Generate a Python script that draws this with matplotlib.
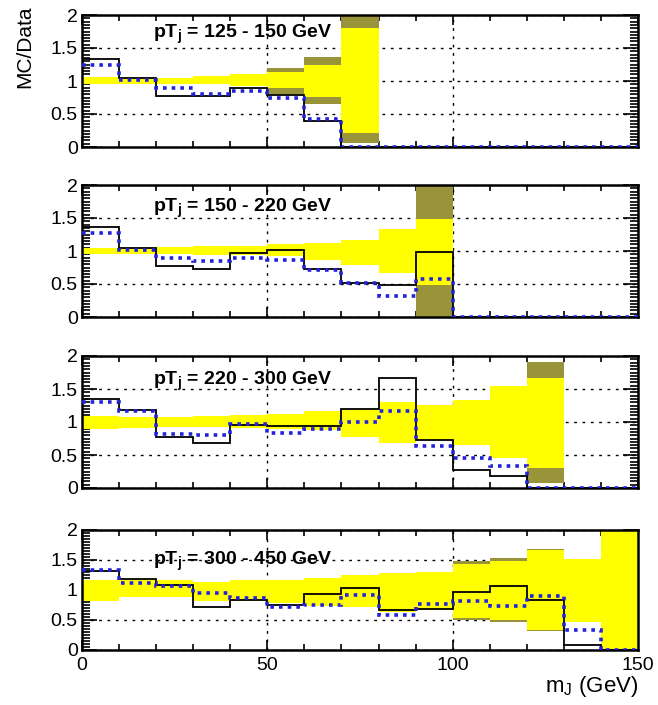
import numpy as np
import matplotlib
matplotlib.use("Agg")
import matplotlib.pyplot as plt
from matplotlib.ticker import MultipleLocator

plt.rcParams['font.family'] = ['Liberation Sans', 'DejaVu Sans']
plt.rcParams['mathtext.fontset'] = 'custom'
plt.rcParams['mathtext.rm'] = 'Liberation Sans'
plt.rcParams['mathtext.bf'] = 'Liberation Sans:bold'

# bin edges of the jet mass (GeV)
edges = np.arange(0, 160, 10)

titles = ["125 - 150", "150 - 220", "220 - 300", "300 - 450"]

# MC/Data ratio, solid black histogram
black_125 = [1.34, 1.04, 0.78, 0.78, 0.90, 0.79, 0.40, 0, 0, 0, 0, 0, 0, 0, 0]
black_150 = [1.37, 1.05, 0.78, 0.73, 0.97, 1.01, 0.72, 0.51, 0.48, 0.99, 0, 0, 0, 0, 0]
black_220 = [1.35, 1.18, 0.77, 0.68, 0.96, 0.94, 0.94, 1.19, 1.66, 0.72, 0.28, 0.18, 0, 0, 0]
black_300 = [1.31, 1.19, 1.08, 0.72, 0.84, 0.75, 0.93, 1.04, 0.67, 0.68, 0.97, 1.07, 0.83, 0.08, 0]

# MC/Data ratio, blue dotted histogram
blue_125 = [1.24, 1.02, 0.89, 0.81, 0.85, 0.75, 0.43, 0, 0, 0, 0, 0, 0, 0, 0]
blue_150 = [1.28, 1.02, 0.90, 0.85, 0.90, 0.87, 0.71, 0.51, 0.32, 0.58, 0, 0, 0, 0, 0]
blue_220 = [1.31, 1.17, 0.82, 0.81, 0.97, 0.84, 0.89, 1.00, 1.16, 0.63, 0.45, 0.34, 0, 0, 0]
blue_300 = [1.34, 1.11, 1.07, 0.95, 0.86, 0.71, 0.75, 0.92, 0.58, 0.77, 0.82, 0.73, 0.90, 0.33, 0]

# inner (yellow) uncertainty band
ylo_125 = [0.95, 0.96, 0.96, 0.95, 0.92, 0.89, 0.76, 0.21, 0, 0, 0, 0, 0, 0, 0]
yhi_125 = [1.06, 1.05, 1.05, 1.07, 1.10, 1.14, 1.25, 1.80, 0, 0, 0, 0, 0, 0, 0]
ylo_150 = [0.95, 0.95, 0.95, 0.94, 0.94, 0.93, 0.87, 0.79, 0.66, 0.48, 0, 0, 0, 0, 0]
yhi_150 = [1.05, 1.05, 1.06, 1.07, 1.08, 1.10, 1.12, 1.17, 1.33, 1.49, 0, 0, 0, 0, 0]
ylo_220 = [0.89, 0.91, 0.92, 0.92, 0.91, 0.90, 0.88, 0.78, 0.68, 0.73, 0.65, 0.45, 0.30, 0, 0]
yhi_220 = [1.09, 1.08, 1.08, 1.09, 1.10, 1.12, 1.16, 1.18, 1.31, 1.26, 1.33, 1.54, 1.66, 0, 0]
ylo_300 = [0.82, 0.88, 0.88, 0.82, 0.82, 0.79, 0.73, 0.72, 0.64, 0.67, 0.53, 0.50, 0.33, 0.47, 0]
yhi_300 = [1.17, 1.18, 1.16, 1.14, 1.16, 1.17, 1.20, 1.25, 1.29, 1.30, 1.44, 1.49, 1.66, 1.51, 2.1]

# outer (olive) uncertainty band
olo_125 = [0.95, 0.96, 0.96, 0.95, 0.92, 0.81, 0.65, 0.06, 0, 0, 0, 0, 0, 0, 0]
ohi_125 = [1.06, 1.05, 1.05, 1.07, 1.10, 1.20, 1.37, 2.1, 0, 0, 0, 0, 0, 0, 0]
olo_150 = [0.95, 0.95, 0.95, 0.94, 0.94, 0.93, 0.87, 0.79, 0.66, 0.0, 0, 0, 0, 0, 0]
ohi_150 = [1.05, 1.05, 1.06, 1.07, 1.08, 1.10, 1.12, 1.17, 1.33, 2.1, 0, 0, 0, 0, 0]
olo_220 = [0.89, 0.91, 0.92, 0.92, 0.91, 0.90, 0.88, 0.78, 0.68, 0.73, 0.65, 0.45, 0.08, 0, 0]
ohi_220 = [1.09, 1.08, 1.08, 1.09, 1.10, 1.12, 1.16, 1.18, 1.31, 1.26, 1.33, 1.54, 1.91, 0, 0]
olo_300 = [0.82, 0.88, 0.88, 0.82, 0.82, 0.79, 0.73, 0.72, 0.64, 0.67, 0.50, 0.46, 0.31, 0.47, 0]
ohi_300 = [1.17, 1.18, 1.16, 1.14, 1.16, 1.17, 1.20, 1.25, 1.29, 1.30, 1.49, 1.54, 1.68, 1.51, 2.1]

panels = [
    (black_125, blue_125, ylo_125, yhi_125, olo_125, ohi_125),
    (black_150, blue_150, ylo_150, yhi_150, olo_150, ohi_150),
    (black_220, blue_220, ylo_220, yhi_220, olo_220, ohi_220),
    (black_300, blue_300, ylo_300, yhi_300, olo_300, ohi_300),
]

W, H = 658, 705
# axes boxes in pixels: (top, bottom)
boxes = [(15, 147), (185, 317), (356, 488), (530, 650)]
text_y = [0.826, 0.795, 0.78, 0.708]
x0, x1 = 82, 638

fig = plt.figure(figsize=(W / 100, H / 100), dpi=100)

for i, (blk, blu, ylo, yhi, olo, ohi) in enumerate(panels):
    top, bot = boxes[i]
    ax = fig.add_axes([x0 / W, 1 - bot / H, (x1 - x0) / W, (bot - top) / H])
    left = edges[:-1]
    ylo, yhi = np.array(ylo), np.array(yhi)
    olo, ohi = np.array(olo), np.array(ohi)
    ax.bar(left, ohi - olo, bottom=olo, width=10, align='edge',
           color='#99933a', lw=0, zorder=1)
    ax.bar(left, yhi - ylo, bottom=ylo, width=10, align='edge',
           color='#ffff00', lw=0, zorder=2)
    ax.stairs(blk, edges, baseline=None, color='black', lw=1.3, zorder=3)
    ax.stairs(blu, edges, baseline=None, color='#2222dd', lw=2.6,
              linestyle=(0, (1.0, 1.4)), zorder=4)

    ax.set_xlim(0, 150)
    ax.set_ylim(0, 2)
    ax.xaxis.set_major_locator(MultipleLocator(50))
    ax.xaxis.set_minor_locator(MultipleLocator(10))
    ax.yaxis.set_minor_locator(MultipleLocator(0.05))
    ax.set_yticks([0, 0.5, 1, 1.5, 2])
    ax.set_yticklabels(['0', '0.5', '1', '1.5', '2'], fontsize=14)
    ax.tick_params(which='both', direction='in', top=True, right=True, width=1.2)
    ax.tick_params(which='major', axis='y', length=11)
    ax.tick_params(which='minor', axis='y', length=6)
    ax.tick_params(which='major', axis='x', length=7)
    ax.tick_params(which='minor', axis='x', length=4)
    ax.tick_params(axis='y', pad=3)
    if i < 3:
        ax.set_xticklabels([])
    else:
        ax.set_xticks([0, 50, 100, 150])
        ax.set_xticklabels(['0', '50', '100', '150'], fontsize=14)
        ax.tick_params(axis='x', pad=5)
    for s in ax.spines.values():
        s.set_linewidth(1.8)
    ax.grid(True, which='major', color='black', linestyle=(0, (2, 4)), lw=1.0, zorder=0)
    ax.set_axisbelow(True)

    ax.text(0.128, text_y[i], r'pT$_{\mathbf{j}}$ = ' + titles[i] + ' GeV',
            transform=ax.transAxes, fontsize=14, fontweight='bold',
            va='baseline', ha='left', zorder=6)

fig.text(x1 / W, 1 - 692 / H, r'm$_{\mathrm{J}}$ (GeV)', fontsize=16,
         ha='right', va='baseline')
fig.text(25 / W, 1 - 5 / H, 'MC/Data', fontsize=15, rotation=90,
         ha='center', va='top')

fig.savefig('out.png', dpi=100)
